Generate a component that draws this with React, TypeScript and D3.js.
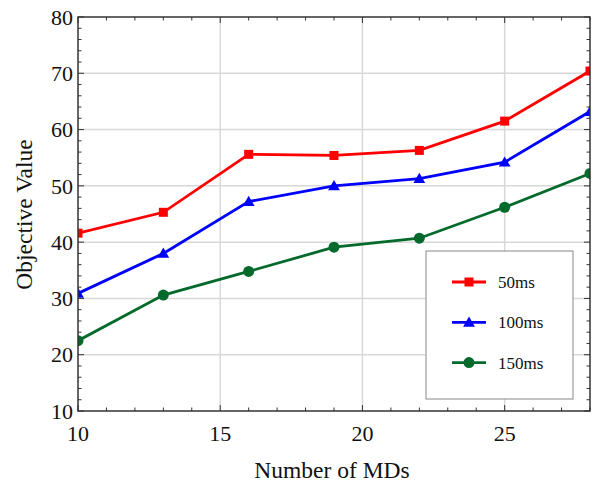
import React from "react";
import * as d3 from "d3";

const mds = [10, 13, 16, 19, 22, 25, 28];
const ms50 = [41.6, 45.3, 55.6, 55.4, 56.3, 61.5, 70.4];
const ms100 = [30.9, 38.0, 47.2, 50.0, 51.3, 54.2, 63.2];
const ms150 = [22.5, 30.6, 34.8, 39.1, 40.7, 46.2, 52.2];
const xTicks = [10, 15, 20, 25];
const yTicks = [10, 20, 30, 40, 50, 60, 70, 80];

const series = [
  { name: "50ms", values: ms50, color: "#ff0000", marker: "square" },
  { name: "100ms", values: ms100, color: "#0000ff", marker: "triangle" },
  { name: "150ms", values: ms150, color: "#046a2c", marker: "circle" },
];

const W = 593;
const H = 483;
const left = 78;
const right = 590;
const top = 17;
const bottom = 411;
const font = "'Liberation Serif', 'Times New Roman', serif";

function Marker({ type, x, y, color }: { type: string; x: number; y: number; color: string }) {
  if (type === "square") return <rect x={x - 4.5} y={y - 4.5} width={9} height={9} fill={color} />;
  if (type === "triangle") {
    const s = d3.symbol().type(d3.symbolTriangle).size(60)();
    return <path d={s || ""} transform={`translate(${x},${y + 1})`} fill={color} />;
  }
  return <circle cx={x} cy={y} r={5.5} fill={color} />;
}

export default function App() {
  const x = d3.scaleLinear().domain([10, 28]).range([left, right]);
  const y = d3.scaleLinear().domain([10, 80]).range([bottom, top]);
  const line = d3
    .line<number>()
    .x((_, i) => x(mds[i]))
    .y((d) => y(d));

  const xMinor = d3.range(10, 29, 1);
  const yMinor = d3.range(10, 81, 2);

  return (
    <svg width={W} height={H} style={{ position: "absolute", left: 0, top: 0 }}>
      <rect width={W} height={H} fill="#fff" />
      <defs>
        <clipPath id="plot">
          <rect x={left} y={top} width={right - left} height={bottom - top} />
        </clipPath>
      </defs>
      {/* grid */}
      {yTicks.filter((t) => t > 10 && t < 80).map((t) => (
        <line key={"gy" + t} x1={left} x2={right} y1={y(t)} y2={y(t)} stroke="#d8d8d8" strokeWidth={1.5} />
      ))}
      {xTicks.filter((t) => t > 10).map((t) => (
        <line key={"gx" + t} x1={x(t)} x2={x(t)} y1={top} y2={bottom} stroke="#d8d8d8" strokeWidth={1.5} />
      ))}
      {/* minor/major ticks inside, all four sides */}
      {xMinor.map((t) => {
        const len = t % 5 === 0 ? 6 : 3.5;
        return (
          <g key={"tx" + t} stroke="#333" strokeWidth={1}>
            <line x1={x(t)} x2={x(t)} y1={bottom} y2={bottom - len} />
            <line x1={x(t)} x2={x(t)} y1={top} y2={top + len} />
          </g>
        );
      })}
      {yMinor.map((t) => {
        const len = t % 10 === 0 ? 6 : 3.5;
        return (
          <g key={"ty" + t} stroke="#333" strokeWidth={1}>
            <line x1={left} x2={left + len} y1={y(t)} y2={y(t)} />
            <line x1={right} x2={right - len} y1={y(t)} y2={y(t)} />
          </g>
        );
      })}
      {/* data */}
      <g clipPath="url(#plot)">
        {series.map((s) => (
          <g key={s.name}>
            <path d={line(s.values) || ""} fill="none" stroke={s.color} strokeWidth={2.8} />
            {s.values.map((v, i) => (
              <Marker key={i} type={s.marker} x={x(mds[i])} y={y(v)} color={s.color} />
            ))}
          </g>
        ))}
      </g>
      {/* frame */}
      <rect x={left} y={top} width={right - left} height={bottom - top} fill="none" stroke="#333" strokeWidth={1.5} />
      {/* tick labels */}
      {yTicks.map((t) => (
        <text key={"ly" + t} x={left - 5} y={y(t)} dy="0.35em" textAnchor="end" fontFamily={font} fontSize={22} fill="#111">
          {t}
        </text>
      ))}
      {xTicks.map((t) => (
        <text key={"lx" + t} x={x(t)} y={bottom + 30} textAnchor="middle" fontFamily={font} fontSize={22} fill="#111">
          {t}
        </text>
      ))}
      {/* axis titles */}
      <text x={332} y={478} textAnchor="middle" fontFamily={font} fontSize={23.5} fill="#111">
        Number of MDs
      </text>
      <text
        transform={`translate(32,${214.5}) rotate(-90)`}
        textAnchor="middle"
        fontFamily={font}
        fontSize={23.5}
        fill="#111"
      >
        Objective Value
      </text>
      {/* legend */}
      <rect x={426} y={251} width={147} height={148} fill="#fff" stroke="#888" strokeWidth={1} />
      {series.map((s, i) => {
        const ly = 282 + i * 40.3;
        return (
          <g key={"lg" + s.name}>
            <line x1={452} x2={486} y1={ly} y2={ly} stroke={s.color} strokeWidth={2.8} />
            <Marker type={s.marker} x={469} y={ly} color={s.color} />
            <text x={498} y={ly} dy="0.35em" fontFamily={font} fontSize={17} fill="#111">
              {s.name}
            </text>
          </g>
        );
      })}
    </svg>
  );
}
